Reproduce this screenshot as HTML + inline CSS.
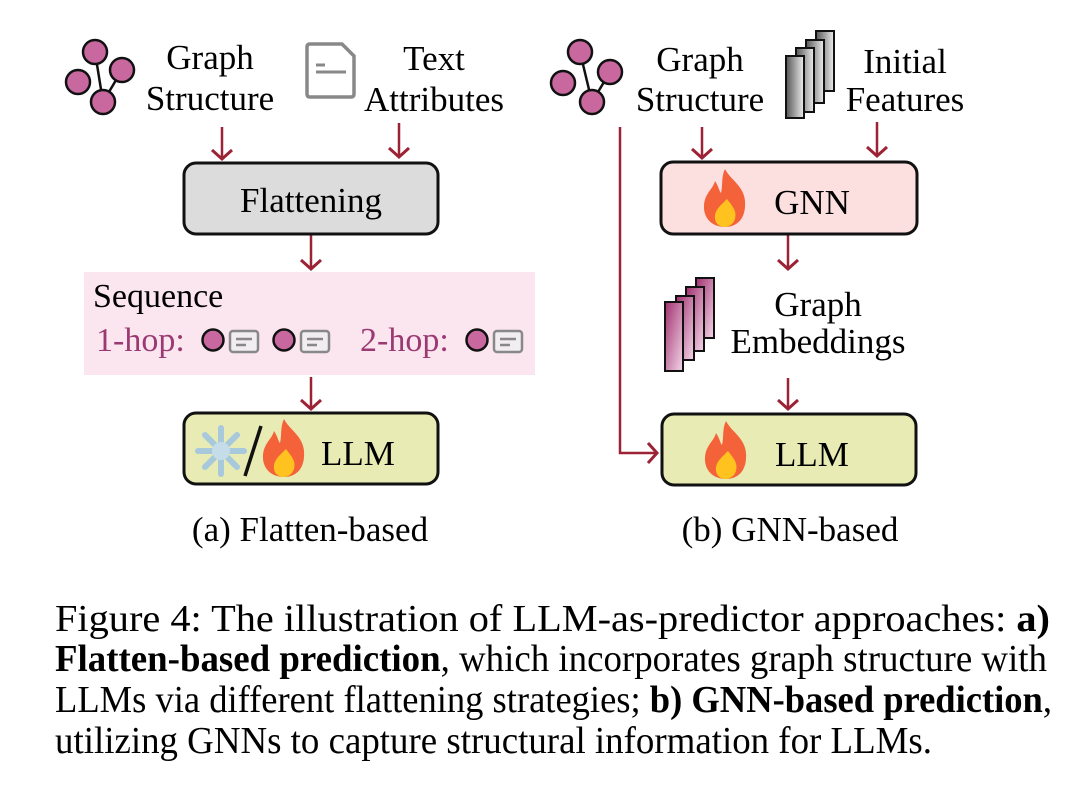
<!DOCTYPE html>
<html><head><meta charset="utf-8"><style>
html,body{margin:0;padding:0;background:#fff;}
svg{display:block;}
text{font-family:"Liberation Serif",serif;}
</style></head><body>
<svg width="1078" height="791" viewBox="0 0 1078 791" xmlns="http://www.w3.org/2000/svg">
<defs>
<marker id="ah" markerWidth="22" markerHeight="22" refX="11" refY="11" orient="auto" markerUnits="userSpaceOnUse">
<path d="M2,1 L11,11 L2,21" fill="none" stroke="#9b2335" stroke-width="3"/>
</marker>
<linearGradient id="gg" x1="0" y1="0" x2="1" y2="0"><stop offset="0" stop-color="#555"/><stop offset="1" stop-color="#eee"/></linearGradient>
<linearGradient id="pg" x1="0" y1="0" x2="1" y2="1"><stop offset="0" stop-color="#a0306f"/><stop offset="1" stop-color="#f4d6e8"/></linearGradient>
<g id="flame">
<path d="M0,-30 C6,-18 22,-12 20,8 C19,22 10,28 0,28 C-12,28 -22,20 -21,6 C-20,-6 -12,-10 -10,-18 C-6,-12 -6,-8 -4,-6 C-2,-14 -4,-22 0,-30Z" fill="#f4623a"/>
<path d="M2,0 C8,8 12,12 10,20 C8,26 3,28 0,28 C-6,28 -11,24 -10,16 C-9,10 -4,6 2,0Z" fill="#ffc21e"/>
</g>
<g id="node"><circle r="12" fill="#c9689f" stroke="#111" stroke-width="2.5"/></g>
<g id="snode"><circle r="10.5" fill="#c9689f" stroke="#111" stroke-width="2.5"/></g>
<g id="doc"><rect x="-14" y="-10" width="28" height="21" rx="3" fill="#f1edf0" stroke="#888" stroke-width="2.5"/><line x1="-8" y1="-2" x2="8" y2="-2" stroke="#888" stroke-width="2.5"/><line x1="-8" y1="4" x2="2" y2="4" stroke="#888" stroke-width="2.5"/></g>
</defs>

<!-- LEFT: graph icon -->
<g stroke="#111" stroke-width="2.5"><line x1="95" y1="52" x2="103" y2="102"/><line x1="122" y1="70" x2="103" y2="102"/></g>
<use href="#node" x="95" y="52"/><use href="#node" x="78" y="82"/><use href="#node" x="122" y="70"/><use href="#node" x="103" y="102"/>
<text x="210" y="69" font-size="35" text-anchor="middle">Graph</text>
<text x="210" y="110" font-size="35" text-anchor="middle">Structure</text>
<path d="M310,44 L342,44 L354,56 L354,94 Q354,97 351,97 L310,97 Q307,97 307,94 L307,47 Q307,44 310,44Z" fill="#fff" stroke="#888" stroke-width="3.5"/>
<line x1="316" y1="65" x2="325" y2="65" stroke="#888" stroke-width="3"/><line x1="316" y1="72" x2="346" y2="72" stroke="#888" stroke-width="3"/>
<text x="434" y="70" font-size="35" text-anchor="middle">Text</text>
<text x="434" y="111" font-size="35" text-anchor="middle">Attributes</text>

<g stroke="#9b2335" stroke-width="2.5" fill="none" marker-end="url(#ah)">
<line x1="222" y1="127" x2="222" y2="159"/>
<line x1="399" y1="123" x2="399" y2="157"/>
<line x1="311" y1="235" x2="311" y2="269"/>
<line x1="311" y1="377" x2="311" y2="409"/>
</g>
<rect x="184" y="163" width="254" height="71" rx="12" fill="#dcdcdc" stroke="#111" stroke-width="3"/>
<text x="311" y="212" font-size="35" text-anchor="middle">Flattening</text>

<rect x="84" y="272" width="451" height="103" fill="#fbe6f0"/>
<text x="93" y="307" font-size="34">Sequence</text>
<text x="96" y="351" font-size="34" fill="#9b3a72">1-hop:</text>
<use href="#snode" x="213" y="340"/><use href="#doc" x="244" y="341"/>
<use href="#snode" x="284" y="340"/><use href="#doc" x="315" y="341"/>
<text x="360" y="351" font-size="34" fill="#9b3a72">2-hop:</text>
<use href="#snode" x="477" y="340"/><use href="#doc" x="508" y="341"/>

<rect x="184" y="413" width="254" height="71" rx="12" fill="#e8ebb3" stroke="#111" stroke-width="3"/>
<g stroke="#a8c8dc" stroke-width="6" stroke-linecap="round">
<line x1="221" y1="428" x2="221" y2="474"/><line x1="198" y1="451" x2="244" y2="451"/>
<line x1="205" y1="435" x2="237" y2="467"/><line x1="237" y1="435" x2="205" y2="467"/>
</g>
<circle cx="221" cy="451" r="9" fill="#c5dde8"/>
<line x1="245" y1="476" x2="261" y2="426" stroke="#111" stroke-width="3.5"/>
<use href="#flame" x="284" y="449"/>
<text x="321" y="465" font-size="35">LLM</text>

<text x="310" y="541" font-size="35" text-anchor="middle">(a) Flatten-based</text>

<!-- RIGHT -->
<g stroke="#111" stroke-width="2.5"><line x1="580" y1="52" x2="592" y2="102"/><line x1="610" y1="72" x2="592" y2="102"/></g>
<use href="#node" x="580" y="52"/><use href="#node" x="563" y="83"/><use href="#node" x="610" y="72"/><use href="#node" x="592" y="102"/>
<text x="700" y="71" font-size="35" text-anchor="middle">Graph</text>
<text x="700" y="111" font-size="35" text-anchor="middle">Structure</text>
<g stroke="#111" stroke-width="2">
<rect x="816" y="31" width="18" height="60" fill="url(#gg)"/>
<rect x="806" y="40" width="18" height="63" fill="url(#gg)"/>
<rect x="796" y="48" width="18" height="64" fill="url(#gg)"/>
<rect x="786" y="56" width="18" height="62" fill="url(#gg)"/>
</g>
<text x="905" y="73" font-size="35" text-anchor="middle">Initial</text>
<text x="905" y="111" font-size="35" text-anchor="middle">Features</text>

<g stroke="#9b2335" stroke-width="2.5" fill="none">
<polyline points="620,127 620,453 657,453" marker-end="url(#ah)"/>
<line x1="702" y1="127" x2="702" y2="158" marker-end="url(#ah)"/>
<line x1="877" y1="122" x2="877" y2="156" marker-end="url(#ah)"/>
<line x1="788" y1="235" x2="788" y2="269" marker-end="url(#ah)"/>
<line x1="788" y1="378" x2="788" y2="409" marker-end="url(#ah)"/>
</g>
<rect x="661" y="162" width="256" height="72" rx="12" fill="#fce0e0" stroke="#111" stroke-width="3"/>
<use href="#flame" x="725" y="199"/>
<text x="812" y="214" font-size="35" text-anchor="middle">GNN</text>

<g stroke="#111" stroke-width="2">
<rect x="696" y="278" width="18" height="60" fill="url(#pg)"/>
<rect x="686" y="287" width="18" height="64" fill="url(#pg)"/>
<rect x="676" y="296" width="18" height="64" fill="url(#pg)"/>
<rect x="665" y="302" width="18" height="69" fill="url(#pg)"/>
</g>
<text x="818" y="316" font-size="35" text-anchor="middle">Graph</text>
<text x="818" y="353" font-size="35" text-anchor="middle">Embeddings</text>

<rect x="662" y="414" width="254" height="71" rx="12" fill="#e8ebb3" stroke="#111" stroke-width="3"/>
<use href="#flame" x="726" y="451"/>
<text x="812" y="466" font-size="35" text-anchor="middle">LLM</text>

<text x="790" y="541" font-size="35" text-anchor="middle">(b) GNN-based</text>

<!-- caption -->
<text x="55" y="631" font-size="38" textLength="995" lengthAdjust="spacingAndGlyphs">Figure 4:  The illustration of LLM-as-predictor approaches:  <tspan font-weight="bold">a)</tspan></text>
<text x="55" y="671" font-size="38" textLength="992" lengthAdjust="spacingAndGlyphs"><tspan font-weight="bold">Flatten-based prediction</tspan>, which incorporates graph structure with</text>
<text x="55" y="712" font-size="38" textLength="997" lengthAdjust="spacingAndGlyphs">LLMs via different flattening strategies; <tspan font-weight="bold">b) GNN-based prediction</tspan>,</text>
<text x="55" y="753" font-size="38" textLength="877" lengthAdjust="spacingAndGlyphs">utilizing GNNs to capture structural information for LLMs.</text>
</svg>
</body></html>
